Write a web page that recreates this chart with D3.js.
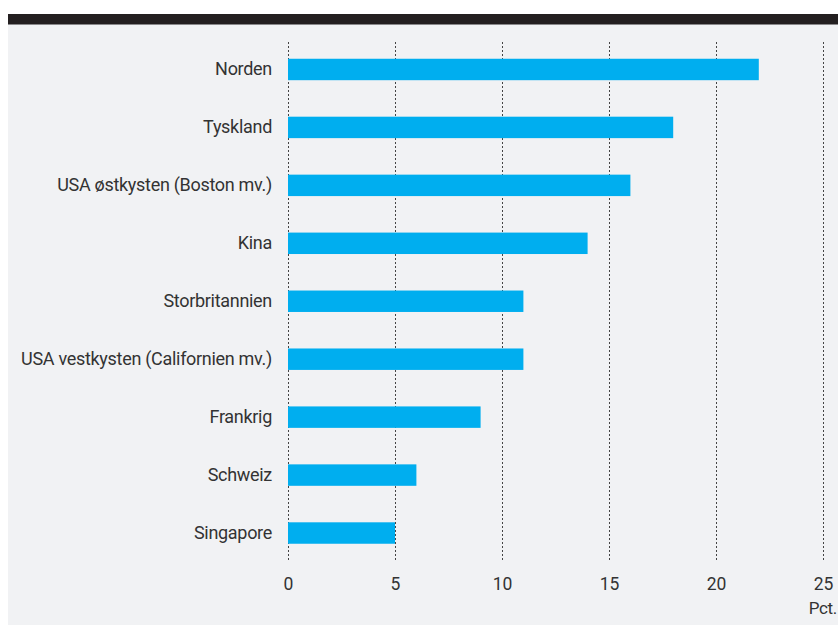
<!DOCTYPE html>
<html><head><meta charset="utf-8">
<script src="https://cdn.jsdelivr.net/npm/d3@7"></script>
<style>body{margin:0;background:#fff;}svg{display:block;}</style>
</head><body>
<script>
const categories = ["Norden","Tyskland","USA østkysten (Boston mv.)","Kina","Storbritannien","USA vestkysten (Californien mv.)","Frankrig","Schweiz","Singapore"];
const values = [22,18,16,14,11,11,9,6,5];
const tickValues = [0,5,10,15,20,25];
const unitLabel = "Pct.";

const W=838,H=626;
const svg=d3.select("body").append("svg").attr("width",W).attr("height",H);
svg.append("rect").attr("x",8).attr("y",24).attr("width",W-8).attr("height",601).attr("fill","#f1f2f4");
svg.append("rect").attr("x",8).attr("y",14).attr("width",W-8).attr("height",10.5).attr("fill","#231f20");

const x=d3.scaleLinear().domain([0,25]).range([288,823]);
const y=d3.scaleBand().domain(categories).range([40.5,562]).paddingInner(0.63).paddingOuter(0.315);

const font="Roboto, 'Noto Sans', sans-serif";
// grid
svg.append("g").selectAll("line").data(tickValues).join("line")
  .attr("x1",d=>x(d)+0.5).attr("x2",d=>x(d)+0.5).attr("y1",42).attr("y2",562)
  .attr("stroke","#444").attr("stroke-width",1).attr("stroke-dasharray","2,2");
// bars
svg.append("g").selectAll("rect").data(values).join("rect")
  .attr("x",x(0)).attr("y",(d,i)=>y(categories[i])).attr("width",d=>x(d)-x(0)).attr("height",y.bandwidth())
  .attr("fill","#00aeef");
// category labels
const ax=svg.append("g").attr("transform",`translate(${x(0)},0)`).call(d3.axisLeft(y).tickSize(0).tickPadding(16));
ax.select(".domain").remove();
ax.selectAll("text").attr("font-family",font).attr("font-size",18).attr("letter-spacing","-0.3px").attr("fill","#333");
// x ticks
const bx=svg.append("g").attr("transform","translate(0,572)").call(d3.axisBottom(x).tickValues(tickValues).tickSize(0).tickPadding(6));
bx.select(".domain").remove();
bx.selectAll("text").attr("font-family",font).attr("font-size",17.5).attr("fill","#333");
svg.append("text").attr("x",837).attr("y",614).attr("text-anchor","end").attr("font-family",font).attr("font-size",17).attr("letter-spacing","-0.3px").attr("fill","#333").text(unitLabel);
</script>
</body></html>
